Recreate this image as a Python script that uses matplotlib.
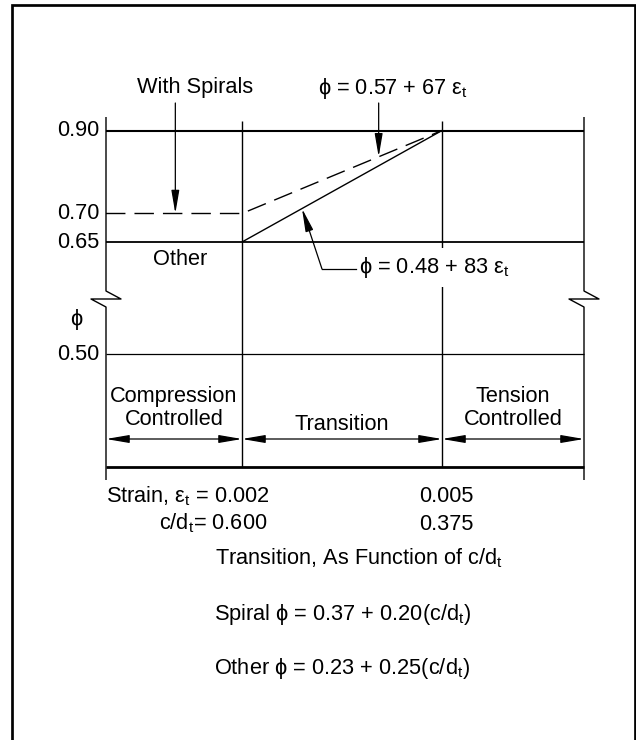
import numpy as np
import matplotlib
matplotlib.use("Agg")
import matplotlib.pyplot as plt
from matplotlib.lines import Line2D
from matplotlib.patches import FancyArrowPatch
from matplotlib.transforms import blended_transform_factory

plt.rcParams["font.family"] = ["Liberation Sans", "DejaVu Sans"]
plt.rcParams["font.size"] = 15.7
plt.rcParams["mathtext.fontset"] = "custom"
plt.rcParams["mathtext.rm"] = "Liberation Sans"
plt.rcParams["mathtext.it"] = "Liberation Sans:italic"
plt.rcParams["mathtext.bf"] = "Liberation Sans:bold"
plt.rcParams["mathtext.fallback"] = "stixsans"

# strength reduction factor phi vs net tensile strain (ACI 318)
strain_limits = [0.002, 0.005]
cd_limits = [0.600, 0.375]
phi_spiral = [0.70, 0.90]
phi_other = [0.65, 0.90]
phi_ticks = [0.90, 0.70, 0.65, 0.50]
zone_names = ["Compression\nControlled", "Transition", "Tension\nControlled"]

# schematic phi axis (not to scale), broken between 0.50 and 0.65
phi_knots = [0.35, 0.50, 0.65, 0.70, 0.90, 0.95]
row_knots = [0.0, 126.0, 238.0, 266.5, 349.5, 363.0]


def phi_to_row(v):
    return np.interp(v, phi_knots, row_knots)


def row_to_phi(v):
    return np.interp(v, row_knots, phi_knots)


W, H = 636, 740
fig = plt.figure(figsize=(W / 100, H / 100), dpi=100)


def at(x, y):
    # pixel position measured from top-left -> figure fraction
    return x / W, 1 - y / H


ax = fig.add_axes([106 / W, 1 - 480 / H, 478 / W, 363 / H])
ax.set_xlim(-0.00004, 0.00713)
ax.set_yscale("function", functions=(phi_to_row, row_to_phi))
ax.set_ylim(0.35, 0.95)
ax.axis("off")

x0, x1 = ax.get_xlim()
xt = ax.get_xaxis_transform()
yt = ax.get_yaxis_transform()
ink = dict(color="black", clip_on=False, solid_capstyle="butt")

base_y = 13 / 363
arrow_y = 41 / 363
mid_top = 359 / 363

# horizontal rules
for v, lw in zip([phi_other[1], phi_other[0], phi_ticks[-1]], [1.5, 1.3, 0.9]):
    ax.plot([x0, x1], [v, v], lw=lw, **ink)

# spiral (dashed) and other members (solid)
ax.plot([x0, strain_limits[0], strain_limits[1]],
        [phi_spiral[0], phi_spiral[0], phi_spiral[1]],
        lw=1.0, dashes=(14, 6.5), color="black", clip_on=False)
ax.plot(strain_limits, phi_other, lw=1.0, **ink)

# zone boundaries
ax.vlines(strain_limits, base_y, mid_top, transform=xt, lw=1.0, color="black")
brk = np.array([363, 189, 181, 181, 173, 0]) / 363
jog = np.array([0, 0, 15, -15, 0, 0]) / 478
for side in (0, 1):
    ax.plot(side + jog, brk, transform=ax.transAxes, lw=1.0, **ink)
ax.plot([0, 1], [base_y, base_y], transform=ax.transAxes, lw=2.0, **ink)

# zone arrows and names (baseline of the last line)
edges = [x0] + strain_limits + [x1]
for a, b, name in zip(edges[:-1], edges[1:], zone_names):
    ax.add_patch(FancyArrowPatch((a, arrow_y), (b, arrow_y), transform=xt,
                                 arrowstyle="<|-|>,head_length=14,head_width=2.4",
                                 mutation_scale=1, shrinkA=0, shrinkB=0,
                                 lw=0.9, color="black", clip_on=False))
    ty = 55 / 363 if "\n" in name else 50 / 363
    ax.text((a + b) / 2, ty, name, transform=xt, ha="center", va="baseline",
            linespacing=1.15)

# phi tick labels
for v in phi_ticks:
    ax.text(-7 / 478, v, f"{v:.2f}", transform=yt, ha="right", va="center")
fig.text(*at(76, 320), "ϕ", ha="center", va="center")
fig.text(*at(180, 265), "Other", ha="center", va="baseline")


def on_line(xs, ys, x):
    pts = ax.transData.transform(np.column_stack([xs, ys]))
    xd = ax.transData.transform((x, ys[0]))[0]
    yd = np.interp(xd, pts[:, 0], pts[:, 1])
    return ax.transData.inverted().transform((xd, yd))[1]


tail = blended_transform_factory(ax.transData, fig.transFigure)
head = dict(arrowstyle="-|>,head_length=14,head_width=2.4", mutation_scale=1,
            shrinkA=0, shrinkB=0, lw=0.9, color="black")

# leaders
ax.annotate("", xy=(0.001, phi_spiral[0]), xytext=(0.001, at(0, 103)[1]),
            textcoords=tail, arrowprops=head, annotation_clip=False)
fig.text(*at(195.5, 93), "With Spirals", ha="center", va="baseline")

xs = 0.00405
ax.annotate("", xy=(xs, on_line(strain_limits, phi_spiral, xs)),
            xytext=(xs, at(0, 103)[1]), textcoords=tail, arrowprops=head,
            annotation_clip=False)
fig.text(*at(318, 94), r"ϕ = 0.57 + 67 ε$_\mathrm{t}$", va="baseline")

xo = 0.0029
ax.annotate("", xy=(xo, on_line(strain_limits, phi_other, xo)),
            xytext=at(322, 269), textcoords="figure fraction", arrowprops=head,
            annotation_clip=False)
fig.add_artist(Line2D([at(322, 269)[0], at(356, 269)[0]], [at(0, 269)[1]] * 2,
                      transform=fig.transFigure, lw=0.9, color="black", zorder=4))
fig.text(*at(359, 273), r"ϕ = 0.48 + 83 ε$_\mathrm{t}$", va="baseline", zorder=3,
         bbox=dict(boxstyle="square,pad=0.3", fc="white", ec="none"))

# strain and c/dt limits
fig.text(*at(106, 502), r"Strain, ε$_\mathrm{t}$ = " + f"{strain_limits[0]:.3f}",
         va="baseline")
fig.text(*at(159, 529), r"c/d$_\mathrm{t}$= " + f"{cd_limits[0]:.3f}", va="baseline")
fig.text(*at(446.5, 502), f"{strain_limits[1]:.3f}", ha="center", va="baseline")
fig.text(*at(446.5, 530), f"{cd_limits[1]:.3f}", ha="center", va="baseline")

fig.text(*at(215, 564), r"Transition, As Function of c/d$_\mathrm{t}$", va="baseline")
fig.text(*at(214, 620), r"Spiral ϕ = 0.37 + 0.20(c/d$_\mathrm{t}$)", va="baseline")
fig.text(*at(214, 674), r"Other ϕ = 0.23 + 0.25(c/d$_\mathrm{t}$)", va="baseline")

# outer frame
fx = [at(12.3, 0)[0], at(12.3, 0)[0], at(635.3, 0)[0], at(635.3, 0)[0]]
fy = [at(0, 760)[1], at(0, 4.7)[1], at(0, 4.7)[1], at(0, 760)[1]]
fig.add_artist(Line2D(fx, fy, transform=fig.transFigure, lw=1.95, color="black",
                      solid_joinstyle="miter"))

fig.savefig("out.png", dpi=100)
